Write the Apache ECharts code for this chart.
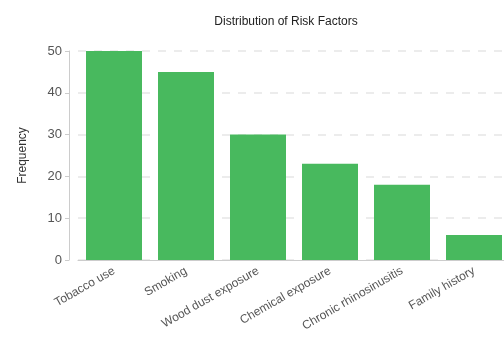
<!DOCTYPE html>
<html>
<head>
<meta charset="utf-8">
<script src="https://cdn.jsdelivr.net/npm/echarts@6/dist/echarts.min.js"></script>
<style>
 html, body { margin: 0; padding: 0; background: #fff; overflow: hidden; }
 #chart { width: 510px; height: 339px; }
</style>
</head>
<body>
<div id="chart"></div>
<script>
var factors = ['Tobacco use', 'Smoking', 'Wood dust exposure', 'Chemical exposure', 'Chronic rhinosinusitis', 'Family history'];
var counts = [50, 45, 30, 23, 18, 6];
var yTicks = [0, 10, 20, 30, 40, 50];

var font = '"Liberation Sans Narrow", "Liberation Sans", sans-serif';
var myChart = echarts.init(document.getElementById('chart'));

// chart is 6px wider than the window: the last band runs off the right edge like in the original
myChart.setOption({
    animation: false,
    title: {
        text: 'Distribution of Risk Factors',
        left: 281,
        textAlign: 'center',
        top: 11,
        textStyle: { fontFamily: font, fontSize: 12, fontWeight: 'normal', color: '#222' }
    },
    grid: { left: 78, right: 0, top: 51, bottom: 79, containLabel: false },
    xAxis: {
        type: 'category',
        data: factors,
        axisLine: { lineStyle: { color: '#ccc' } },
        axisTick: { alignWithLabel: true, length: 4, lineStyle: { color: '#ccc' } },
        axisLabel: { rotate: 30, fontFamily: font, fontSize: 12, color: '#555', margin: 10, interval: 0 }
    },
    yAxis: {
        type: 'value',
        min: yTicks[0],
        max: yTicks[yTicks.length - 1],
        interval: 10,
        offset: 9,
        name: 'Frequency',
        nameLocation: 'middle',
        nameGap: 40,
        nameTextStyle: { fontFamily: font, fontSize: 12, color: '#333' },
        axisLine: { show: true, lineStyle: { color: '#ccc' } },
        axisTick: { show: true, length: 4, lineStyle: { color: '#ccc' } },
        axisLabel: { fontFamily: font, fontSize: 13, color: '#555', margin: 7 },
        splitLine: { lineStyle: { color: '#e6e6e6', type: [8, 8], width: 1.5 } }
    },
    series: [{
        type: 'bar',
        data: counts,
        barWidth: 56,
        itemStyle: { color: '#48b95e' }
    }]
});
</script>
</body>
</html>
